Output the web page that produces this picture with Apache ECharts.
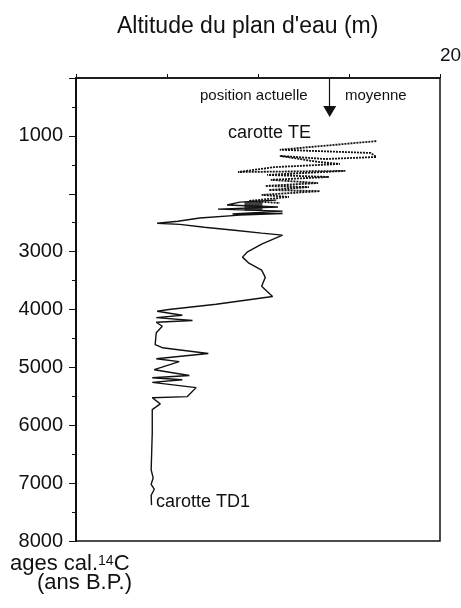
<!DOCTYPE html>
<html>
<head>
<meta charset="utf-8">
<script src="https://cdn.jsdelivr.net/npm/echarts@6/dist/echarts.min.js"></script>
<style>
  html, body { margin: 0; padding: 0; background: #fff; }
  #chart { width: 461px; height: 608px; }
</style>
</head>
<body>
<div id="chart"></div>
<script>
// altitude (axe du haut, 0..20) et âge cal. (ans B.P.)
var altMin = 0;
var altMax = 20;
var ageMin = 0;
var ageMax = 8000;
var ageLabels = [1000, 3000, 4000, 5000, 6000, 7000, 8000];

// carotte TE (pointillés)
var teAlt = [16.5, 11.2, 16.2, 16.5, 13.7, 11.2, 13.3, 14.5, 10.9, 8.9, 14.8, 10.5, 13.9, 10.7, 13.3, 10.4, 12.8, 10.6, 13.4, 10.2, 11.7, 9.5, 11.2];
var teAge = [1090, 1240, 1295, 1365, 1400, 1345, 1450, 1485, 1540, 1625, 1605, 1675, 1710, 1760, 1815, 1865, 1885, 1935, 1955, 2020, 2055, 2125, 2160];

// carotte TD1 (trait continu)
var tdAlt = [11.0, 9.0, 8.3, 11.1, 7.8, 11.35, 8.6, 11.35, 9.0, 6.8, 5.6, 4.46, 5.7, 7.05, 8.7, 10.2, 11.35, 10.2, 9.4, 9.15, 9.5, 10.2, 10.4, 10.2, 10.8, 9.3, 7.7, 5.1, 4.46, 5.84, 4.41, 6.4, 4.41, 4.74, 4.41, 4.35, 4.74, 7.27, 4.41, 5.67, 4.3, 6.23, 4.19, 5.84, 4.19, 6.6, 6.12, 4.19, 4.63, 4.19, 4.19, 4.13, 4.24, 4.13, 4.3, 4.13, 4.15];
var tdAge = [2110, 2145, 2195, 2230, 2265, 2300, 2350, 2340, 2370, 2420, 2475, 2510, 2530, 2580, 2630, 2680, 2715, 2870, 3010, 3095, 3200, 3320, 3445, 3600, 3775, 3840, 3910, 4000, 4030, 4100, 4140, 4190, 4220, 4290, 4400, 4605, 4660, 4760, 4850, 4900, 5040, 5140, 5180, 5215, 5260, 5350, 5505, 5525, 5630, 5730, 6130, 6770, 6910, 7020, 7105, 7210, 7380];

// tache noire dans carotte TE
var blobAlt = [9.75];
var blobAge = [2215];

// position actuelle moyenne
var actuelAlt = 13.94;

function pairs(xs, ys) {
  var out = [];
  for (var i = 0; i < xs.length; i++) out.push([xs[i], ys[i]]);
  return out;
}

var font = 'Liberation Sans';
var myChart = echarts.init(document.getElementById('chart'));

var option = {
  animation: false,
  backgroundColor: '#fff',
  textStyle: { fontFamily: font, color: '#111' },
  title: {
    text: "Altitude du plan d'eau (m)",
    left: 112,
    top: 10,
    textStyle: { fontFamily: font, fontSize: 23, fontWeight: 'normal', color: '#111' }
  },
  grid: {
    left: 76, right: 21, top: 78, bottom: 67,
    outerBoundsMode: 'none',
    show: true, borderColor: '#111', borderWidth: 1.5, backgroundColor: 'transparent'
  },
  xAxis: {
    type: 'value',
    position: 'top',
    min: altMin,
    max: altMax,
    interval: 5,
    axisLine: { show: true, lineStyle: { color: '#111', width: 1.5 } },
    axisTick: { show: true, length: 4, lineStyle: { color: '#111' } },
    splitLine: { show: false },
    axisLabel: {
      fontFamily: font, fontSize: 19, color: '#111', align: 'left', margin: 13,
      formatter: function (v) { return v === altMax ? '20' : ''; }
    }
  },
  yAxis: {
    type: 'value',
    inverse: true,
    min: ageMin,
    max: ageMax,
    interval: 1000,
    axisLine: { show: true, lineStyle: { color: '#111', width: 2 } },
    axisTick: { show: true, length: 7, lineStyle: { color: '#111' } },
    minorTick: { show: true, splitNumber: 2, length: 4, lineStyle: { color: '#111' } },
    splitLine: { show: false },
    axisLabel: {
      fontFamily: font, fontSize: 20, color: '#111', margin: 13,
      formatter: function (v) { return ageLabels.indexOf(v) >= 0 ? String(v) : ''; }
    },
    name: '{a|ages cal.}{s|14}{a|C}\n{b|(ans B.P.)}',
    nameLocation: 'end',
    nameGap: 13,
    nameTextStyle: {
      align: 'left',
      verticalAlign: 'top',
      padding: [0, 0, 0, -66],
      rich: {
        a: { fontFamily: font, fontSize: 22, color: '#111', lineHeight: 19 },
        s: { fontFamily: font, fontSize: 14, color: '#111', verticalAlign: 'top', lineHeight: 19 },
        b: { fontFamily: font, fontSize: 22, color: '#111', lineHeight: 19, padding: [0, 0, 0, 27] }
      }
    }
  },
  series: [
    {
      name: 'carotte TE',
      type: 'line',
      data: pairs(teAlt, teAge),
      symbol: 'none',
      lineStyle: { color: '#111', width: 1.8, type: [2, 1] },
      markLine: {
        silent: true,
        symbol: ['none', 'triangle'],
        symbolSize: [13, 11],
        label: { show: false },
        lineStyle: { color: '#111', width: 1.2, type: 'solid' },
        data: [[{ coord: [actuelAlt, 0] }, { coord: [actuelAlt, 580] }]]
      }
    },
    {
      name: 'carotte TD1',
      type: 'line',
      data: pairs(tdAlt, tdAge),
      symbol: 'none',
      lineStyle: { color: '#111', width: 1.4 }
    },
    {
      name: 'tache',
      type: 'scatter',
      data: pairs(blobAlt, blobAge),
      symbol: 'rect',
      symbolSize: [18, 9],
      itemStyle: { color: '#111' }
    }
  ],
  graphic: [
    { type: 'text', left: 200, top: 88, style: { text: 'position actuelle', font: '15px "Liberation Sans"', fill: '#111' } },
    { type: 'text', left: 345, top: 88, style: { text: 'moyenne', font: '15px "Liberation Sans"', fill: '#111' } },
    { type: 'text', left: 228, top: 124, style: { text: 'carotte TE', font: '18px "Liberation Sans"', fill: '#111' } },
    { type: 'text', left: 156, top: 493, style: { text: 'carotte TD1', font: '18px "Liberation Sans"', fill: '#111' } }
  ]
};
myChart.setOption(option);
</script>
</body>
</html>
